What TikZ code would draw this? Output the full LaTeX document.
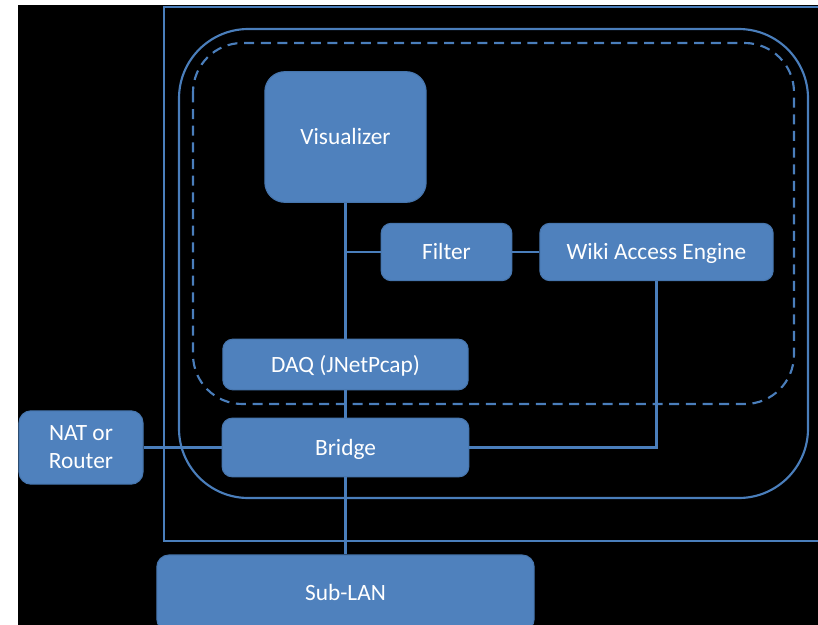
\documentclass[tikz,border=0pt]{standalone}
\usepackage{fontspec}
\setmainfont{Carlito}
\definecolor{boxblue}{HTML}{4F81BD}
\definecolor{boxedge}{HTML}{4675AD}
\definecolor{linkblue}{HTML}{4A7EBB}
\tikzset{
  block/.style={rectangle, rounded corners=7.5pt, fill=boxblue, draw=boxedge,
    line width=0.8pt, text=white, inner sep=0pt, align=center,
    font=\fontsize{17.5}{21}\selectfont},
  oneline/.style={block, text height=11.3pt, text depth=0pt},
  link/.style={draw=linkblue, line width=1.6pt}
}
\begin{document}
\begin{tikzpicture}[x=0.75pt,y=-0.75pt]
        % Rahmen
        \useasboundingbox (0,0) rectangle (818,625);
        \fill[white] (0,0) rectangle (818,625);
        \fill[black] (18,5) rectangle (818,625);
        % Gehaeuse
        \draw[link] (818,7) -- (164,7) -- (164,541) -- (818,541);
        \draw[link, rounded corners=52pt] (179,29) rectangle (808,498);
        \draw[link, dash pattern=on 7.5pt off 5pt, rounded corners=37pt] (193,43) rectangle (794,404);
        % Bausteine
        \node[oneline, rounded corners=15pt, minimum width=121pt, minimum height=98pt] (vis) at (345.5,137) {Visualizer};
        \node[oneline, minimum width=98pt, minimum height=43pt] (filter) at (446.5,252) {Filter};
        \node[oneline, minimum width=175pt, minimum height=43pt] (wiki) at (656.5,252) {Wiki Access Engine};
        \node[oneline, minimum width=184pt, minimum height=38pt] (daq) at (345.5,364.5) {DAQ (JNetPcap)};
        \node[oneline, minimum width=185pt, minimum height=44pt] (bridge) at (345.5,447.5) {Bridge};
        \node[block, rounded corners=9pt, minimum width=93pt, minimum height=55pt] (nat) at (81,447.5) {NAT or\\Router};
        \node[oneline, rounded corners=9pt, minimum width=283pt, minimum height=57pt] (sublan) at (345.5,593) {Sub-LAN};
        % Verbindungen
        \draw[link]
        (vis.south) -- (daq.north)
        (filter.west) -- (filter.west -| vis.south)
        (filter.east) -- (wiki.west)
        (wiki.south) -- (wiki.south |- bridge.east) -- (bridge.east)
        (nat.east) -- (bridge.west)
        (daq.south) -- (bridge.north)
        (bridge.south) -- (sublan.north);
    \end{tikzpicture}
\end{document}
